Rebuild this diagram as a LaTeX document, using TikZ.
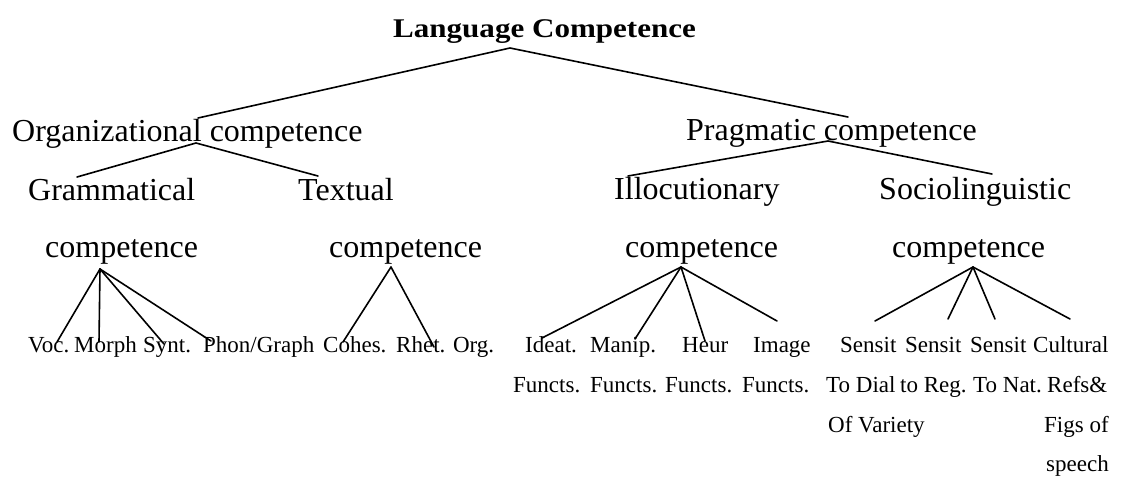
\documentclass[tikz,border=0pt]{standalone}
\usepackage{fontspec}
\setmainfont{Liberation Serif}
\usepackage{graphicx}
\begin{document}
\begin{tikzpicture}[x=1pt,y=-1pt,
  branch/.style={line width=1.6pt, line cap=round, line join=round},
  toplabel/.style={inner sep=0pt, anchor=base west, font=\fontsize{27}{27}\selectfont\bfseries},
  mid/.style={inner sep=0pt, anchor=base west, font=\fontsize{32}{32}\selectfont},
  leaf/.style={inner sep=0pt, anchor=base west, font=\fontsize{23}{23}\selectfont},
]
\useasboundingbox (0,0) rectangle (1125,480);

% root
\node[toplabel] (lc) at (393,37) {\scalebox{1.15}[1]{Language Competence}};

% second level
\node[mid] (org) at (12,141) {Organizational competence};
\node[mid] (prag) at (686,140) {Pragmatic competence};

% third level
\node[mid] (gram) at (28,200) {Grammatical};
\node[mid] (gram2) at (45,257) {competence};
\node[mid] (text) at (298,200) {Textual};
\node[mid] (text2) at (329,257) {competence};
\node[mid] (illoc) at (614,199) {Illocutionary};
\node[mid] (illoc2) at (625,257) {competence};
\node[mid] (socio) at (879,199) {Sociolinguistic};
\node[mid] (socio2) at (892,257) {competence};

% leaves: organizational side
\node[leaf] (voc) at (28,352) {Voc.};
\node[leaf] (morph) at (74,352) {Morph};
\node[leaf] (synt) at (143,352) {Synt.};
\node[leaf] (phon) at (203,352) {Phon/Graph};
\node[leaf] (cohes) at (323,352) {Cohes.};
\node[leaf] (rhet) at (396,352) {Rhet. Org.};

% leaves: illocutionary functions
\node[leaf] (ideat) at (525,352) {Ideat.};
\node[leaf] (ideat2) at (513,392) {Functs.};
\node[leaf] (manip) at (590,352) {Manip.};
\node[leaf] (manip2) at (590,392) {Functs.};
\node[leaf] (heur) at (682,352) {Heur};
\node[leaf] (heur2) at (665,392) {Functs.};
\node[leaf] (image) at (753,352) {Image};
\node[leaf] (image2) at (742,392) {Functs.};

% leaves: sociolinguistic
\node[leaf] (sdial) at (840,352) {Sensit};
\node[leaf] (sdial2) at (826,392) {To Dial};
\node[leaf] (sdial3) at (828,432) {Of Variety};
\node[leaf] (sreg) at (905,352) {Sensit};
\node[leaf] (sreg2) at (900,392) {to Reg.};
\node[leaf] (snat) at (970,352) {Sensit};
\node[leaf] (snat2) at (973,392) {To Nat.};
\node[leaf] (cult) at (1033,352) {Cultural};
\node[leaf] (cult2) at (1047,392) {Refs\&};
\node[leaf] (cult3) at (1044,432) {Figs of};
\node[leaf] (cult4) at (1046,471) {speech};

% branching points and line ends
\coordinate (lc-j) at (510,48);
\coordinate (org-t) at (198,118);
\coordinate (prag-t) at (848,117);
\coordinate (org-j) at (196,143);
\coordinate (prag-j) at (828,141);
\coordinate (gram-t) at (77,177);
\coordinate (text-t) at (318,176);
\coordinate (illoc-t) at (628,176);
\coordinate (socio-t) at (992,174);
\coordinate (gram-j) at (100,269);
\coordinate (text-j) at (391,267);
\coordinate (illoc-j) at (681,267);
\coordinate (socio-j) at (973,267);
\coordinate (voc-t) at (57,342);
\coordinate (morph-t) at (99,342);
\coordinate (synt-t) at (164,344);
\coordinate (phon-t) at (211,341);
\coordinate (cohes-t) at (343,342);
\coordinate (rhet-t) at (434,347);
\coordinate (ideat-t) at (542,338);
\coordinate (manip-t) at (635,339);
\coordinate (heur-t) at (705,341);
\coordinate (image-t) at (777,321);
\coordinate (sdial-t) at (875,321);
\coordinate (sreg-t) at (948,319);
\coordinate (snat-t) at (995,319);
\coordinate (cult-t) at (1070,319);

% connectors
\draw[branch] (org-t) -- (lc-j) -- (prag-t);
\draw[branch] (gram-t) -- (org-j) -- (text-t);
\draw[branch] (illoc-t) -- (prag-j) -- (socio-t);
\foreach \e in {voc,morph,synt,phon} \draw[branch] (gram-j) -- (\e-t);
\foreach \e in {cohes,rhet} \draw[branch] (text-j) -- (\e-t);
\foreach \e in {ideat,manip,heur,image} \draw[branch] (illoc-j) -- (\e-t);
\foreach \e in {sdial,sreg,snat,cult} \draw[branch] (socio-j) -- (\e-t);
\end{tikzpicture}
\end{document}
